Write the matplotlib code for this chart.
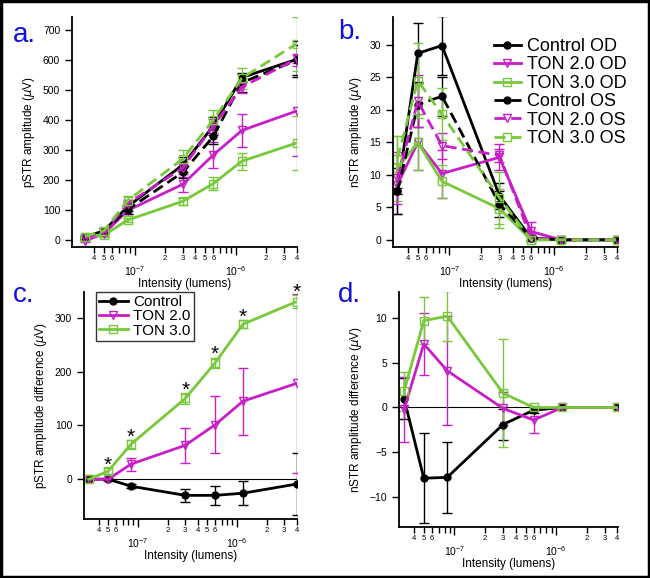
import numpy as np
import matplotlib.pyplot as plt
from matplotlib.ticker import FixedLocator, FuncFormatter, MultipleLocator
from matplotlib.patches import Rectangle

plt.rcParams['font.family'] = ['Liberation Sans', 'DejaVu Sans']
plt.rcParams['mathtext.default'] = 'regular'

# light intensities (lumens)
intensity = [3.2e-8, 5e-8, 8.5e-8, 3e-7, 6e-7, 1.15e-6, 4e-6]

# a. pSTR amplitude (uV), mean and error
pstr_ctrl_od = [8, 30, 110, 250, 380, 542, 603]
pstr_ctrl_od_err = [5, 8, 15, 25, 30, 15, 60]
pstr_ctrl_os = [8, 30, 100, 225, 345, 525, 600]
pstr_ctrl_os_err = [5, 8, 15, 20, 25, 30, 50]
pstr_ton2_od = [-5, 20, 97, 185, 283, 365, 430]
pstr_ton2_od_err = [5, 8, 12, 25, 45, 55, 150]
pstr_ton2_os = [5, 25, 120, 240, 380, 510, 605]
pstr_ton2_os_err = [5, 5, 12, 20, 25, 20, 15]
pstr_ton3_od = [10, 15, 65, 128, 187, 262, 323]
pstr_ton3_od_err = [5, 8, 8, 12, 22, 28, 90]
pstr_ton3_os = [10, 30, 130, 270, 400, 540, 655]
pstr_ton3_os_err = [5, 8, 15, 30, 35, 35, 90]

# b. nSTR amplitude (uV)
nstr_ctrl_od = [7.5, 28.7, 29.9, 6.8, 0.3, 0, 0]
nstr_ctrl_od_err = [0.5, 4.6, 4.5, 2.0, 0.3, 0, 0]
nstr_ctrl_os = [7.5, 20.8, 22.1, 5.5, 0.3, 0, 0]
nstr_ctrl_os_err = [3.5, 3.5, 3.0, 2.0, 0.5, 0, 0]
nstr_ton2_od = [8.5, 15.0, 10.2, 12.7, 1.3, 0, 0]
nstr_ton2_od_err = [4.5, 4.3, 3.7, 2.0, 1.4, 0, 0]
nstr_ton2_os = [9.5, 21.3, 14.5, 13.0, 0.3, 0, 0]
nstr_ton2_os_err = [4.0, 4.0, 2.0, 1.0, 0.3, 0, 0]
nstr_ton3_od = [11.0, 15.0, 9.0, 4.8, 0, 0, 0]
nstr_ton3_od_err = [5.0, 4.3, 2.5, 3.0, 0, 0, 0]
nstr_ton3_os = [12.5, 24.5, 19.3, 6.5, 0, 0, 0]
nstr_ton3_os_err = [3.5, 5.8, 4.0, 4.0, 0, 0, 0]

# c. pSTR amplitude difference (uV)
dpstr_ctrl = [0, 0, -13, -30, -30, -26, -9]
dpstr_ctrl_err = [2, 2, 4, 12, 17, 22, 57]
dpstr_ton2 = [0, 0, 28, 63, 101, 145, 178]
dpstr_ton2_err = [2, 3, 12, 32, 53, 62, 166]
dpstr_ton3 = [0, 15, 65, 150, 216, 288, 330]
dpstr_ton3_err = [3, 5, 8, 10, 10, 8, 12]
sig_points = [1, 2, 3, 4, 5, 6]

# d. nSTR amplitude difference (uV)
dnstr_ctrl = [1.0, -7.9, -7.8, -1.9, -0.3, 0, 0]
dnstr_ctrl_err = [2.3, 5.0, 4.0, 1.7, 0.3, 0, 0]
dnstr_ton2 = [-0.2, 7.1, 4.1, -0.1, -1.4, 0, 0]
dnstr_ton2_err = [3.6, 3.5, 6.1, 1.8, 1.4, 0, 0]
dnstr_ton3 = [1.8, 9.7, 10.2, 1.6, 0, 0, 0]
dnstr_ton3_err = [2.2, 2.6, 2.8, 6.0, 0.2, 0, 0]

BLACK = 'black'
MAGENTA = '#c81ec8'
GREEN = '#78c83c'

major_ticks = [1e-7, 1e-6]
minor_ticks = [m * 10.0 ** e for e in (-8, -7, -6) for m in range(2, 10)
               if 3.5e-8 < m * 10.0 ** e < 4.1e-6]


def series(ax, y, err, color, marker, ls='-', label=None):
    filled = marker == 'o'
    c = ax.errorbar(intensity, y, yerr=err, color=color, ls=ls, lw=2,
                    marker=marker, ms=5 if filled else 6,
                    mfc=color if filled else 'none', mec=color, mew=1,
                    elinewidth=1, capsize=3.5, capthick=1,
                    dashes=(4, 2) if ls == '--' else (None, None))
    # legend shows only the line + marker
    c[0].set_label(label)
    return c[0]


def minor_fmt(v, pos):
    m = int(round(v / 10 ** np.floor(np.log10(v) + 1e-9)))
    return str(m) if 2 <= m <= 6 else ''


def major_fmt(v, pos):
    return r'$10^{%d}$' % int(round(np.log10(v)))


def style(ax, xmin, ylim, ystep, ylabel):
    ax.set_xscale('log')
    ax.set_xlim(xmin, 4.05e-6)
    ax.set_ylim(*ylim)
    ax.xaxis.set_major_locator(FixedLocator(major_ticks))
    ax.xaxis.set_minor_locator(FixedLocator(minor_ticks))
    ax.xaxis.set_major_formatter(FuncFormatter(major_fmt))
    ax.xaxis.set_minor_formatter(FuncFormatter(minor_fmt))
    ax.yaxis.set_major_locator(MultipleLocator(ystep))
    ax.spines['top'].set_visible(False)
    ax.spines['right'].set_visible(False)
    for s in ('left', 'bottom'):
        ax.spines[s].set_linewidth(1.3)
    ax.tick_params(which='major', axis='x', length=6, width=1, pad=6.5, labelsize=7.5)
    ax.tick_params(which='minor', axis='x', length=4, width=1, pad=1.5, labelsize=5.5)
    ax.tick_params(axis='y', length=5, width=1, labelsize=7.5)
    ax.set_xlabel('Intensity (lumens)', fontsize=8.5, labelpad=0)
    ax.set_ylabel(ylabel, fontsize=8.5, labelpad=4)


fig = plt.figure(figsize=(6.5, 5.78), dpi=100)
fig.patches.append(Rectangle((0.002, 0.002), 0.996, 0.996, transform=fig.transFigure,
                             fill=False, ec='black', lw=2.5))

ax_a = fig.add_axes([0.1108, 0.5727, 0.3462, 0.398])
ax_b = fig.add_axes([0.6046, 0.5727, 0.3462, 0.398])
ax_c = fig.add_axes([0.1292, 0.102, 0.328, 0.393])
ax_d = fig.add_axes([0.6138, 0.0882, 0.337, 0.4066])

# a
series(ax_a, pstr_ctrl_od, pstr_ctrl_od_err, BLACK, 'o')
series(ax_a, pstr_ton2_od, pstr_ton2_od_err, MAGENTA, 'v')
series(ax_a, pstr_ton3_od, pstr_ton3_od_err, GREEN, 's')
series(ax_a, pstr_ctrl_os, pstr_ctrl_os_err, BLACK, 'o', '--')
series(ax_a, pstr_ton2_os, pstr_ton2_os_err, MAGENTA, 'v', '--')
series(ax_a, pstr_ton3_os, pstr_ton3_os_err, GREEN, 's', '--')
style(ax_a, 2.4e-8, (-25, 745), 100, r'pSTR amplitude ($\mathit{\mu}$V)')

# b
lines_b = [
    series(ax_b, nstr_ctrl_od, nstr_ctrl_od_err, BLACK, 'o', label='Control OD'),
    series(ax_b, nstr_ton2_od, nstr_ton2_od_err, MAGENTA, 'v', label='TON 2.0 OD'),
    series(ax_b, nstr_ton3_od, nstr_ton3_od_err, GREEN, 's', label='TON 3.0 OD'),
    series(ax_b, nstr_ctrl_os, nstr_ctrl_os_err, BLACK, 'o', '--', label='Control OS'),
    series(ax_b, nstr_ton2_os, nstr_ton2_os_err, MAGENTA, 'v', '--', label='TON 2.0 OS'),
    series(ax_b, nstr_ton3_os, nstr_ton3_os_err, GREEN, 's', '--', label='TON 3.0 OS'),
]
style(ax_b, 2.9e-8, (-1.1, 34.3), 5, r'nSTR amplitude ($\mathit{\mu}$V)')
ax_b.legend(handles=lines_b, loc='upper right', bbox_to_anchor=(1.07, 0.94),
            frameon=False, fontsize=13, handlelength=1.5, handletextpad=0.35,
            labelspacing=0.08, borderaxespad=0)

# c
ax_c.axhline(0, color='black', lw=0.8)
lines_c = [
    series(ax_c, dpstr_ctrl, dpstr_ctrl_err, BLACK, 'o', label='Control'),
    series(ax_c, dpstr_ton2, dpstr_ton2_err, MAGENTA, 'v', label='TON 2.0'),
    series(ax_c, dpstr_ton3, dpstr_ton3_err, GREEN, 's', label='TON 3.0'),
]
for i in sig_points:
    ax_c.text(intensity[i], dpstr_ton3[i] + dpstr_ton3_err[i] - 5, '*',
              ha='center', va='baseline', fontsize=15)
style(ax_c, 2.85e-8, (-74, 348), 100, r'pSTR amplitude difference ($\mathit{\mu}$V)')
leg = ax_c.legend(handles=lines_c, loc='upper left', bbox_to_anchor=(0.055, 1.0),
                  fontsize=11, handlelength=1.9, handletextpad=0.35,
                  labelspacing=0.02, borderaxespad=0, borderpad=0.2, fancybox=False)
leg.get_frame().set_edgecolor('black')
leg.get_frame().set_linewidth(1)

# d
ax_d.axhline(0, color='black', lw=0.8)
series(ax_d, dnstr_ctrl, dnstr_ctrl_err, BLACK, 'o')
series(ax_d, dnstr_ton2, dnstr_ton2_err, MAGENTA, 'v')
series(ax_d, dnstr_ton3, dnstr_ton3_err, GREEN, 's')
style(ax_d, 2.85e-8, (-13.35, 12.9), 5, r'nSTR amplitude difference ($\mathit{\mu}$V)')

for label, x, y in [('a.', 0.02, 0.94), ('b.', 0.52, 0.945), ('c.', 0.02, 0.49), ('d.', 0.52, 0.49)]:
    fig.text(x, y, label, color='#1010e0', fontsize=20, va='center')

fig.savefig('out.png', dpi=100)
